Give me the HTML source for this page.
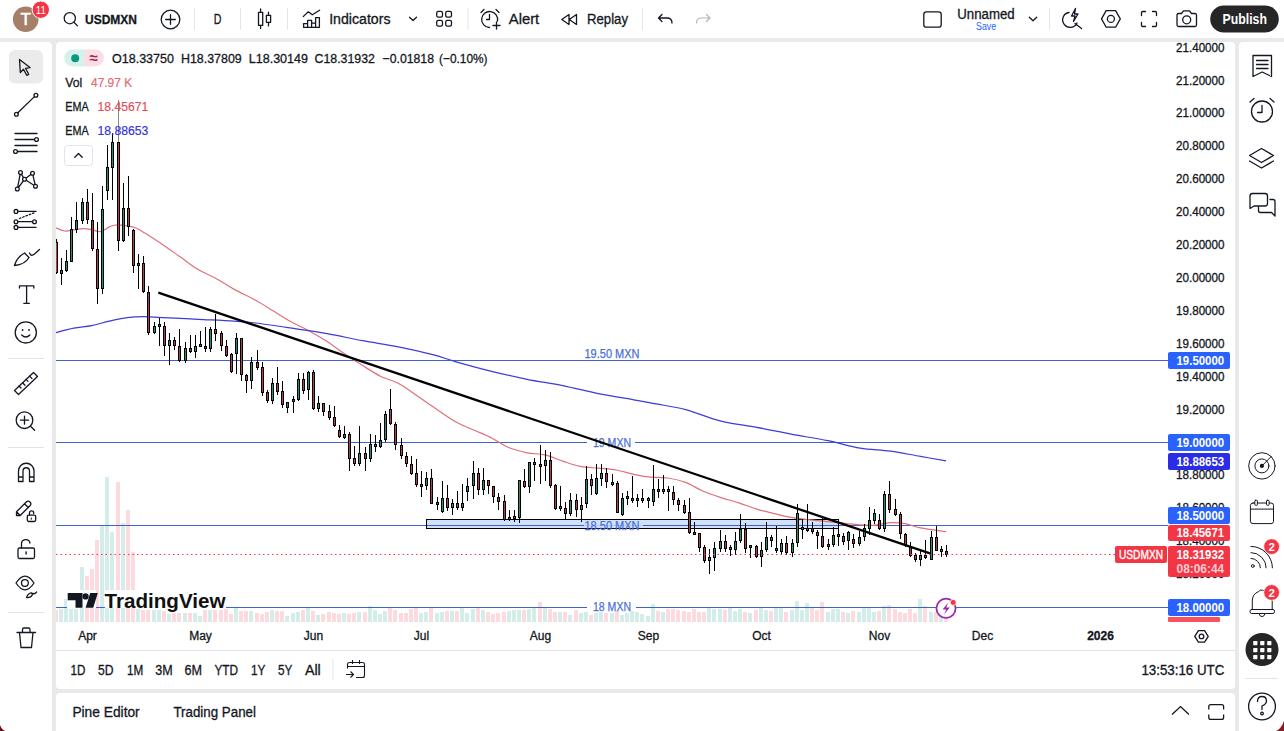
<!DOCTYPE html>
<html><head><meta charset="utf-8"><title>USDMXN chart</title>
<style>
html,body{margin:0;padding:0;}
body{width:1284px;height:731px;overflow:hidden;position:relative;background:#e9e9ea;font-family:"Liberation Sans", sans-serif;}
svg{position:absolute;left:0;top:0;}
svg text{font-family:"Liberation Sans", sans-serif;}
text[fill="#131722"]{stroke:#131722;stroke-width:0.3px;}
text[fill="#4a70d8"]{stroke:#4a70d8;stroke-width:0.25px;}
text[fill="#e0505a"]{stroke:#e0505a;stroke-width:0.2px;}
text[fill="#3434d8"]{stroke:#3434d8;stroke-width:0.2px;}
text[fill="#e96a72"]{stroke:#e96a72;stroke-width:0.2px;}
</style></head><body>
<div style="position:absolute;left:0;top:0;width:1284px;height:38px;background:#fff"></div>
<div style="position:absolute;left:0;top:42px;width:52px;height:689px;background:#fff;border-radius:0 4px 0 0"></div>
<div style="position:absolute;left:56px;top:42px;width:1179px;height:647px;background:#fff;border-radius:4px"></div>
<div style="position:absolute;left:1239px;top:42px;width:45px;height:689px;background:#fff;border-radius:4px 0 0 0"></div>
<div style="position:absolute;left:56px;top:693px;width:1179px;height:38px;background:#fff;border-radius:4px 4px 0 0"></div>
<svg width="1284" height="731" viewBox="0 0 1284 731">
<defs><clipPath id="cp"><rect x="56" y="42" width="1112" height="580"/></clipPath></defs>
<g clip-path="url(#cp)">
<rect x="54" y="610" width="4" height="12" fill="#fcdadd"/>
<rect x="59" y="609" width="4" height="13" fill="#d3eeea"/>
<rect x="64" y="599" width="4" height="23" fill="#d3eeea"/>
<rect x="69" y="609" width="4" height="13" fill="#d3eeea"/>
<rect x="74" y="609" width="4" height="13" fill="#d3eeea"/>
<rect x="80" y="567" width="4" height="55" fill="#d3eeea"/>
<rect x="85" y="576" width="4" height="46" fill="#fcdadd"/>
<rect x="90" y="569" width="4" height="53" fill="#fcdadd"/>
<rect x="95" y="540" width="4" height="82" fill="#fcdadd"/>
<rect x="100" y="526" width="4" height="96" fill="#d3eeea"/>
<rect x="105" y="477" width="4" height="145" fill="#d3eeea"/>
<rect x="110" y="532" width="4" height="90" fill="#d3eeea"/>
<rect x="116" y="482" width="4" height="140" fill="#fcdadd"/>
<rect x="121" y="523" width="4" height="99" fill="#d3eeea"/>
<rect x="126" y="510" width="4" height="112" fill="#fcdadd"/>
<rect x="131" y="552" width="4" height="70" fill="#fcdadd"/>
<rect x="136" y="609" width="4" height="13" fill="#d3eeea"/>
<rect x="141" y="610" width="4" height="12" fill="#fcdadd"/>
<rect x="146" y="610" width="4" height="12" fill="#fcdadd"/>
<rect x="152" y="610" width="4" height="12" fill="#d3eeea"/>
<rect x="157" y="610" width="4" height="12" fill="#d3eeea"/>
<rect x="162" y="611" width="4" height="11" fill="#fcdadd"/>
<rect x="167" y="614" width="4" height="8" fill="#d3eeea"/>
<rect x="172" y="613" width="4" height="9" fill="#fcdadd"/>
<rect x="177" y="613" width="4" height="9" fill="#fcdadd"/>
<rect x="183" y="613" width="4" height="9" fill="#d3eeea"/>
<rect x="188" y="613" width="4" height="9" fill="#fcdadd"/>
<rect x="193" y="613" width="4" height="9" fill="#d3eeea"/>
<rect x="198" y="616" width="4" height="6" fill="#d3eeea"/>
<rect x="203" y="610" width="4" height="12" fill="#fcdadd"/>
<rect x="208" y="610" width="4" height="12" fill="#d3eeea"/>
<rect x="213" y="610" width="4" height="12" fill="#fcdadd"/>
<rect x="219" y="610" width="4" height="12" fill="#fcdadd"/>
<rect x="224" y="609" width="4" height="13" fill="#fcdadd"/>
<rect x="229" y="614" width="4" height="8" fill="#fcdadd"/>
<rect x="234" y="608" width="4" height="14" fill="#d3eeea"/>
<rect x="239" y="611" width="4" height="11" fill="#fcdadd"/>
<rect x="244" y="611" width="4" height="11" fill="#fcdadd"/>
<rect x="249" y="611" width="4" height="11" fill="#d3eeea"/>
<rect x="255" y="613" width="4" height="9" fill="#fcdadd"/>
<rect x="260" y="614" width="4" height="8" fill="#fcdadd"/>
<rect x="265" y="612" width="4" height="10" fill="#fcdadd"/>
<rect x="270" y="610" width="4" height="12" fill="#d3eeea"/>
<rect x="275" y="611" width="4" height="11" fill="#fcdadd"/>
<rect x="280" y="611" width="4" height="11" fill="#fcdadd"/>
<rect x="285" y="616" width="4" height="6" fill="#d3eeea"/>
<rect x="291" y="613" width="4" height="9" fill="#d3eeea"/>
<rect x="296" y="612" width="4" height="10" fill="#d3eeea"/>
<rect x="301" y="610" width="4" height="12" fill="#fcdadd"/>
<rect x="306" y="608" width="4" height="14" fill="#d3eeea"/>
<rect x="311" y="611" width="4" height="11" fill="#fcdadd"/>
<rect x="316" y="615" width="4" height="7" fill="#d3eeea"/>
<rect x="321" y="614" width="4" height="8" fill="#fcdadd"/>
<rect x="327" y="612" width="4" height="10" fill="#fcdadd"/>
<rect x="332" y="613" width="4" height="9" fill="#fcdadd"/>
<rect x="337" y="614" width="4" height="8" fill="#fcdadd"/>
<rect x="342" y="613" width="4" height="9" fill="#d3eeea"/>
<rect x="347" y="614" width="4" height="8" fill="#fcdadd"/>
<rect x="352" y="613" width="4" height="9" fill="#fcdadd"/>
<rect x="357" y="612" width="4" height="10" fill="#d3eeea"/>
<rect x="363" y="612" width="4" height="10" fill="#fcdadd"/>
<rect x="368" y="606" width="4" height="16" fill="#d3eeea"/>
<rect x="373" y="610" width="4" height="12" fill="#d3eeea"/>
<rect x="378" y="614" width="4" height="8" fill="#d3eeea"/>
<rect x="383" y="611" width="4" height="11" fill="#d3eeea"/>
<rect x="388" y="608" width="4" height="14" fill="#fcdadd"/>
<rect x="393" y="610" width="4" height="12" fill="#fcdadd"/>
<rect x="399" y="613" width="4" height="9" fill="#fcdadd"/>
<rect x="404" y="613" width="4" height="9" fill="#fcdadd"/>
<rect x="409" y="609" width="4" height="13" fill="#fcdadd"/>
<rect x="414" y="608" width="4" height="14" fill="#fcdadd"/>
<rect x="419" y="613" width="4" height="9" fill="#d3eeea"/>
<rect x="424" y="612" width="4" height="10" fill="#d3eeea"/>
<rect x="429" y="608" width="4" height="14" fill="#fcdadd"/>
<rect x="435" y="613" width="4" height="9" fill="#d3eeea"/>
<rect x="440" y="612" width="4" height="10" fill="#d3eeea"/>
<rect x="445" y="611" width="4" height="11" fill="#fcdadd"/>
<rect x="450" y="611" width="4" height="11" fill="#d3eeea"/>
<rect x="455" y="611" width="4" height="11" fill="#fcdadd"/>
<rect x="460" y="608" width="4" height="14" fill="#d3eeea"/>
<rect x="465" y="613" width="4" height="9" fill="#d3eeea"/>
<rect x="471" y="609" width="4" height="13" fill="#d3eeea"/>
<rect x="476" y="608" width="4" height="14" fill="#fcdadd"/>
<rect x="481" y="610" width="4" height="12" fill="#d3eeea"/>
<rect x="486" y="612" width="4" height="10" fill="#fcdadd"/>
<rect x="491" y="614" width="4" height="8" fill="#fcdadd"/>
<rect x="496" y="613" width="4" height="9" fill="#fcdadd"/>
<rect x="502" y="612" width="4" height="10" fill="#fcdadd"/>
<rect x="507" y="611" width="4" height="11" fill="#d3eeea"/>
<rect x="512" y="610" width="4" height="12" fill="#d3eeea"/>
<rect x="517" y="610" width="4" height="12" fill="#d3eeea"/>
<rect x="522" y="610" width="4" height="12" fill="#fcdadd"/>
<rect x="527" y="609" width="4" height="13" fill="#d3eeea"/>
<rect x="532" y="608" width="4" height="14" fill="#d3eeea"/>
<rect x="538" y="602" width="4" height="20" fill="#fcdadd"/>
<rect x="543" y="608" width="4" height="14" fill="#d3eeea"/>
<rect x="548" y="609" width="4" height="13" fill="#fcdadd"/>
<rect x="553" y="612" width="4" height="10" fill="#fcdadd"/>
<rect x="558" y="612" width="4" height="10" fill="#d3eeea"/>
<rect x="563" y="612" width="4" height="10" fill="#fcdadd"/>
<rect x="568" y="615" width="4" height="7" fill="#d3eeea"/>
<rect x="574" y="610" width="4" height="12" fill="#fcdadd"/>
<rect x="579" y="613" width="4" height="9" fill="#d3eeea"/>
<rect x="584" y="612" width="4" height="10" fill="#d3eeea"/>
<rect x="589" y="615" width="4" height="7" fill="#fcdadd"/>
<rect x="594" y="613" width="4" height="9" fill="#d3eeea"/>
<rect x="599" y="612" width="4" height="10" fill="#d3eeea"/>
<rect x="604" y="613" width="4" height="9" fill="#fcdadd"/>
<rect x="610" y="613" width="4" height="9" fill="#d3eeea"/>
<rect x="615" y="611" width="4" height="11" fill="#fcdadd"/>
<rect x="620" y="615" width="4" height="7" fill="#d3eeea"/>
<rect x="625" y="613" width="4" height="9" fill="#d3eeea"/>
<rect x="630" y="611" width="4" height="11" fill="#d3eeea"/>
<rect x="635" y="612" width="4" height="10" fill="#d3eeea"/>
<rect x="640" y="614" width="4" height="8" fill="#d3eeea"/>
<rect x="646" y="616" width="4" height="6" fill="#d3eeea"/>
<rect x="651" y="604" width="4" height="18" fill="#d3eeea"/>
<rect x="656" y="611" width="4" height="11" fill="#fcdadd"/>
<rect x="661" y="612" width="4" height="10" fill="#d3eeea"/>
<rect x="666" y="609" width="4" height="13" fill="#fcdadd"/>
<rect x="671" y="609" width="4" height="13" fill="#fcdadd"/>
<rect x="676" y="610" width="4" height="12" fill="#fcdadd"/>
<rect x="682" y="611" width="4" height="11" fill="#fcdadd"/>
<rect x="687" y="612" width="4" height="10" fill="#fcdadd"/>
<rect x="692" y="609" width="4" height="13" fill="#fcdadd"/>
<rect x="697" y="612" width="4" height="10" fill="#fcdadd"/>
<rect x="702" y="612" width="4" height="10" fill="#fcdadd"/>
<rect x="707" y="608" width="4" height="14" fill="#d3eeea"/>
<rect x="712" y="609" width="4" height="13" fill="#d3eeea"/>
<rect x="718" y="609" width="4" height="13" fill="#d3eeea"/>
<rect x="723" y="610" width="4" height="12" fill="#fcdadd"/>
<rect x="728" y="608" width="4" height="14" fill="#d3eeea"/>
<rect x="733" y="611" width="4" height="11" fill="#d3eeea"/>
<rect x="738" y="609" width="4" height="13" fill="#d3eeea"/>
<rect x="743" y="612" width="4" height="10" fill="#fcdadd"/>
<rect x="748" y="613" width="4" height="9" fill="#d3eeea"/>
<rect x="754" y="610" width="4" height="12" fill="#fcdadd"/>
<rect x="759" y="608" width="4" height="14" fill="#d3eeea"/>
<rect x="764" y="610" width="4" height="12" fill="#d3eeea"/>
<rect x="769" y="611" width="4" height="11" fill="#fcdadd"/>
<rect x="774" y="608" width="4" height="14" fill="#d3eeea"/>
<rect x="779" y="608" width="4" height="14" fill="#d3eeea"/>
<rect x="784" y="612" width="4" height="10" fill="#fcdadd"/>
<rect x="790" y="610" width="4" height="12" fill="#d3eeea"/>
<rect x="795" y="601" width="4" height="21" fill="#d3eeea"/>
<rect x="800" y="610" width="4" height="12" fill="#d3eeea"/>
<rect x="805" y="603" width="4" height="19" fill="#d3eeea"/>
<rect x="810" y="608" width="4" height="14" fill="#fcdadd"/>
<rect x="815" y="610" width="4" height="12" fill="#fcdadd"/>
<rect x="820" y="602" width="4" height="20" fill="#fcdadd"/>
<rect x="826" y="612" width="4" height="10" fill="#d3eeea"/>
<rect x="831" y="609" width="4" height="13" fill="#d3eeea"/>
<rect x="836" y="609" width="4" height="13" fill="#d3eeea"/>
<rect x="841" y="612" width="4" height="10" fill="#fcdadd"/>
<rect x="846" y="613" width="4" height="9" fill="#d3eeea"/>
<rect x="851" y="611" width="4" height="11" fill="#fcdadd"/>
<rect x="857" y="612" width="4" height="10" fill="#d3eeea"/>
<rect x="862" y="608" width="4" height="14" fill="#d3eeea"/>
<rect x="867" y="608" width="4" height="14" fill="#d3eeea"/>
<rect x="872" y="612" width="4" height="10" fill="#d3eeea"/>
<rect x="877" y="611" width="4" height="11" fill="#fcdadd"/>
<rect x="882" y="606" width="4" height="16" fill="#d3eeea"/>
<rect x="887" y="605" width="4" height="17" fill="#fcdadd"/>
<rect x="893" y="609" width="4" height="13" fill="#fcdadd"/>
<rect x="898" y="612" width="4" height="10" fill="#fcdadd"/>
<rect x="903" y="613" width="4" height="9" fill="#fcdadd"/>
<rect x="908" y="609" width="4" height="13" fill="#fcdadd"/>
<rect x="913" y="613" width="4" height="9" fill="#fcdadd"/>
<rect x="918" y="599" width="4" height="23" fill="#d3eeea"/>
<rect x="923" y="606" width="4" height="16" fill="#fcdadd"/>
<rect x="929" y="612" width="4" height="10" fill="#d3eeea"/>
<rect x="934" y="612" width="4" height="10" fill="#fcdadd"/>
<rect x="939" y="612" width="4" height="10" fill="#d3eeea"/>
<rect x="944" y="612" width="4" height="10" fill="#fcdadd"/>
<rect x="67" y="590" width="29" height="18" fill="#fff"/>
<rect x="105" y="590" width="121" height="18" fill="#fff"/>
<rect x="56" y="360" width="1112" height="1" fill="#4062c6"/>
<text x="612" y="358" font-size="12" fill="#4a70d8" font-weight="normal" text-anchor="middle" textLength="55" lengthAdjust="spacingAndGlyphs" >19.50 MXN</text>
<rect x="56" y="442" width="531" height="1" fill="#4062c6"/><rect x="635" y="442" width="533" height="1" fill="#4062c6"/>
<text x="612" y="446.5" font-size="12" fill="#4a70d8" font-weight="normal" text-anchor="middle" textLength="38" lengthAdjust="spacingAndGlyphs" >19 MXN</text>
<rect x="56" y="525" width="1112" height="1" fill="#4062c6"/>
<rect x="56" y="607" width="11" height="1" fill="#4062c6"/><rect x="96" y="607" width="9" height="1" fill="#4062c6"/><rect x="226" y="607" width="361" height="1" fill="#4062c6"/><rect x="636" y="607" width="532" height="1" fill="#4062c6"/>
<text x="612" y="611" font-size="12" fill="#4a70d8" font-weight="normal" text-anchor="middle" textLength="38" lengthAdjust="spacingAndGlyphs" >18 MXN</text>
<rect x="426.5" y="519.5" width="412" height="9" fill="#c9dcfb" fill-opacity="0.85" stroke="#000" stroke-width="1"/>
<rect x="427" y="525" width="157" height="1" fill="#4062c6"/><rect x="643" y="525" width="195" height="1" fill="#4062c6"/>
<text x="612" y="529.5" font-size="12" fill="#4a70d8" font-weight="normal" text-anchor="middle" textLength="55" lengthAdjust="spacingAndGlyphs" >18.50 MXN</text>
<path d="M56,227.8 C57.5,228.3 61.9,230.7 64.9,231 C67.9,231.3 70.8,230.3 73.8,229.9 C76.8,229.5 79.7,228.8 82.7,228.7 C85.7,228.6 88.6,229.1 91.6,229.6 C94.5,230.1 97.5,232.1 100.4,231.7 C103.4,231.2 106.7,228.0 109.3,226.9 C111.9,225.8 113.0,225.2 116,225 C119.0,224.8 123.8,225.5 127.1,226 C130.4,226.5 133.0,226.8 136,228 C139.0,229.2 140.5,230.3 144.9,233.1 C149.3,235.9 156.8,240.7 162.7,244.7 C168.6,248.7 174.5,253.0 180.4,257.1 C186.3,261.2 192.3,266.1 198.2,269.6 C204.1,273.2 210.1,275.1 216,278.4 C221.9,281.6 227.1,285.4 233.8,289.1 C240.5,292.8 249.3,296.8 256,300.5 C262.7,304.2 267.9,307.7 273.8,311.3 C279.7,314.9 285.7,318.7 291.6,322 C297.5,325.3 303.4,327.6 309.3,330.9 C315.2,334.2 321.2,337.8 327.1,341.6 C333.0,345.5 339.0,350.0 344.9,354 C350.8,358.0 356.8,361.9 362.7,365.6 C368.6,369.3 374.5,373.2 380.4,376.2 C386.3,379.1 392.3,380.2 398.2,383.3 C404.1,386.4 410.1,390.9 416,394.9 C421.9,398.9 427.1,402.8 433.8,407.3 C440.5,411.8 449.3,418.2 456,422 C462.7,425.8 467.9,427.3 473.8,430 C479.7,432.7 485.7,435.0 491.6,438 C497.5,441.0 503.4,445.3 509.3,447.8 C515.2,450.3 521.2,451.6 527.1,452.8 C533.0,454.0 539.0,453.5 544.9,454.9 C550.8,456.3 556.8,459.2 562.7,461.1 C568.6,463.0 574.5,465.2 580.4,466.4 C586.3,467.6 592.3,467.6 598.2,468.2 C604.1,468.8 610.1,469.0 616,470 C621.9,471.0 628.1,473.2 633.8,474.4 C639.5,475.6 644.3,476.5 650,477.1 C655.7,477.7 661.9,477.1 667.8,478 C673.7,478.9 679.7,480.2 685.6,482.4 C691.5,484.6 697.4,488.8 703.3,491.3 C709.2,493.8 715.2,495.7 721.1,497.6 C727.0,499.5 733.0,501.0 738.9,502.9 C744.8,504.8 750.8,507.3 756.7,509.1 C762.6,510.9 768.5,512.2 774.4,513.6 C780.3,515.0 782.9,516.2 792.2,517.6 C801.5,519.0 818.8,520.7 830.1,521.9 C841.4,523.1 852.7,524.3 860.2,524.9 C867.7,525.5 870.3,525.6 875.3,525.2 C880.3,524.8 885.4,522.9 890.4,522.6 C895.4,522.4 900.4,522.8 905.4,523.7 C910.4,524.6 913.7,526.6 920.5,527.9 C927.3,529.2 941.8,531.1 946.1,531.7" fill="none" stroke="#e0707a" stroke-width="1.2"/>
<path d="M56,332.7 C59.0,331.9 67.9,329.4 73.8,328.2 C79.7,327.0 85.7,326.8 91.6,325.6 C97.5,324.4 103.4,322.4 109.3,321.1 C115.2,319.8 121.2,318.3 127.1,317.6 C133.0,316.9 139.0,316.7 144.9,316.7 C150.8,316.7 153.8,317.2 162.7,317.6 C171.6,318.0 186.3,318.7 198.2,319.3 C210.0,319.9 224.2,320.5 233.8,321.1 C243.4,321.7 246.4,321.8 256,323 C265.6,324.2 279.8,326.4 291.6,328.2 C303.5,330.0 315.2,331.5 327.1,333.6 C339.0,335.7 350.9,338.5 362.7,340.7 C374.5,342.9 386.3,344.5 398.2,346.9 C410.1,349.3 424.2,352.4 433.8,354.9 C443.4,357.4 446.4,359.1 456,361.8 C465.6,364.5 479.8,368.4 491.6,371.3 C503.5,374.2 515.2,376.9 527.1,379.3 C539.0,381.7 550.9,383.2 562.7,385.6 C574.6,388.0 586.4,391.2 598.2,393.6 C610.1,396.0 624.2,398.1 633.8,399.8 C643.4,401.5 647.4,402.3 656,403.9 C664.6,405.5 674.8,406.7 685.6,409.6 C696.5,412.5 709.2,418.2 721.1,421.1 C733.0,424.1 744.9,425.1 756.7,427.3 C768.6,429.5 780.4,432.2 792.2,434.4 C804.1,436.6 816.5,438.4 827.8,440.7 C839.1,443.0 849.8,446.4 860.2,448.1 C870.6,449.8 880.4,449.7 890.4,451.1 C900.4,452.5 911.2,454.8 920.5,456.4 C929.8,458.0 941.8,460.1 946.1,460.9" fill="none" stroke="#3c3cd6" stroke-width="1.2"/>
<rect x="56" y="239" width="1" height="35" fill="#000"/>
<rect x="55" y="242" width="3" height="31" fill="#000"/>
<rect x="56" y="243" width="1" height="29" fill="#b0404f"/>
<rect x="61" y="258" width="1" height="27" fill="#000"/>
<rect x="60" y="270" width="3" height="4" fill="#000"/>
<rect x="61" y="271" width="1" height="2" fill="#2c8a78"/>
<rect x="66" y="250" width="1" height="22" fill="#000"/>
<rect x="65" y="261" width="3" height="10" fill="#000"/>
<rect x="66" y="262" width="1" height="8" fill="#2c8a78"/>
<rect x="71" y="217" width="1" height="45" fill="#000"/>
<rect x="70" y="229" width="3" height="33" fill="#000"/>
<rect x="71" y="230" width="1" height="31" fill="#2c8a78"/>
<rect x="76" y="202" width="1" height="31" fill="#000"/>
<rect x="75" y="220" width="3" height="10" fill="#000"/>
<rect x="76" y="221" width="1" height="8" fill="#2c8a78"/>
<rect x="82" y="198" width="1" height="26" fill="#000"/>
<rect x="81" y="202" width="3" height="19" fill="#000"/>
<rect x="82" y="203" width="1" height="17" fill="#2c8a78"/>
<rect x="87" y="189" width="1" height="35" fill="#000"/>
<rect x="86" y="202" width="3" height="18" fill="#000"/>
<rect x="87" y="203" width="1" height="16" fill="#b0404f"/>
<rect x="92" y="193" width="1" height="58" fill="#000"/>
<rect x="91" y="220" width="3" height="29" fill="#000"/>
<rect x="92" y="221" width="1" height="27" fill="#b0404f"/>
<rect x="97" y="222" width="1" height="82" fill="#000"/>
<rect x="96" y="249" width="3" height="40" fill="#000"/>
<rect x="97" y="250" width="1" height="38" fill="#b0404f"/>
<rect x="102" y="186" width="1" height="108" fill="#000"/>
<rect x="101" y="209" width="3" height="80" fill="#000"/>
<rect x="102" y="210" width="1" height="78" fill="#2c8a78"/>
<rect x="107" y="145" width="1" height="55" fill="#000"/>
<rect x="106" y="167" width="3" height="24" fill="#000"/>
<rect x="107" y="168" width="1" height="22" fill="#2c8a78"/>
<rect x="112" y="133" width="1" height="67" fill="#000"/>
<rect x="111" y="142" width="3" height="26" fill="#000"/>
<rect x="112" y="143" width="1" height="24" fill="#2c8a78"/>
<rect x="118" y="100" width="1" height="151" fill="#000"/>
<rect x="118" y="100" width="1" height="42" fill="#888"/>
<rect x="117" y="142" width="3" height="99" fill="#000"/>
<rect x="118" y="143" width="1" height="97" fill="#b0404f"/>
<rect x="123" y="183" width="1" height="59" fill="#000"/>
<rect x="122" y="208" width="3" height="33" fill="#000"/>
<rect x="123" y="209" width="1" height="31" fill="#2c8a78"/>
<rect x="128" y="176" width="1" height="60" fill="#000"/>
<rect x="127" y="208" width="3" height="19" fill="#000"/>
<rect x="128" y="209" width="1" height="17" fill="#b0404f"/>
<rect x="133" y="229" width="1" height="44" fill="#000"/>
<rect x="132" y="230" width="3" height="36" fill="#000"/>
<rect x="133" y="231" width="1" height="34" fill="#b0404f"/>
<rect x="138" y="254" width="1" height="35" fill="#000"/>
<rect x="137" y="263" width="3" height="3" fill="#000"/>
<rect x="138" y="264" width="1" height="1" fill="#2c8a78"/>
<rect x="143" y="256" width="1" height="37" fill="#000"/>
<rect x="142" y="263" width="3" height="29" fill="#000"/>
<rect x="143" y="264" width="1" height="27" fill="#b0404f"/>
<rect x="148" y="286" width="1" height="49" fill="#000"/>
<rect x="147" y="292" width="3" height="41" fill="#000"/>
<rect x="148" y="293" width="1" height="39" fill="#b0404f"/>
<rect x="154" y="322" width="1" height="12" fill="#000"/>
<rect x="153" y="326" width="3" height="7" fill="#000"/>
<rect x="154" y="327" width="1" height="5" fill="#2c8a78"/>
<rect x="159" y="318" width="1" height="28" fill="#000"/>
<rect x="158" y="324" width="3" height="3" fill="#000"/>
<rect x="159" y="325" width="1" height="1" fill="#2c8a78"/>
<rect x="164" y="322" width="1" height="34" fill="#000"/>
<rect x="163" y="326" width="3" height="20" fill="#000"/>
<rect x="164" y="327" width="1" height="18" fill="#b0404f"/>
<rect x="169" y="333" width="1" height="32" fill="#000"/>
<rect x="168" y="340" width="3" height="6" fill="#000"/>
<rect x="169" y="341" width="1" height="4" fill="#2c8a78"/>
<rect x="174" y="337" width="1" height="13" fill="#000"/>
<rect x="173" y="340" width="3" height="6" fill="#000"/>
<rect x="174" y="341" width="1" height="4" fill="#b0404f"/>
<rect x="179" y="329" width="1" height="33" fill="#000"/>
<rect x="178" y="346" width="3" height="15" fill="#000"/>
<rect x="179" y="347" width="1" height="13" fill="#b0404f"/>
<rect x="185" y="342" width="1" height="21" fill="#000"/>
<rect x="184" y="348" width="3" height="13" fill="#000"/>
<rect x="185" y="349" width="1" height="11" fill="#2c8a78"/>
<rect x="190" y="335" width="1" height="18" fill="#000"/>
<rect x="189" y="348" width="3" height="4" fill="#000"/>
<rect x="190" y="349" width="1" height="2" fill="#b0404f"/>
<rect x="195" y="335" width="1" height="23" fill="#000"/>
<rect x="194" y="346" width="3" height="6" fill="#000"/>
<rect x="195" y="347" width="1" height="4" fill="#2c8a78"/>
<rect x="200" y="331" width="1" height="15" fill="#000"/>
<rect x="199" y="344" width="3" height="3" fill="#000"/>
<rect x="200" y="345" width="1" height="1" fill="#2c8a78"/>
<rect x="205" y="327" width="1" height="25" fill="#000"/>
<rect x="204" y="346" width="3" height="3" fill="#000"/>
<rect x="205" y="347" width="1" height="1" fill="#b0404f"/>
<rect x="210" y="327" width="1" height="25" fill="#000"/>
<rect x="209" y="329" width="3" height="20" fill="#000"/>
<rect x="210" y="330" width="1" height="18" fill="#2c8a78"/>
<rect x="215" y="314" width="1" height="27" fill="#000"/>
<rect x="214" y="329" width="3" height="5" fill="#000"/>
<rect x="215" y="330" width="1" height="3" fill="#b0404f"/>
<rect x="221" y="331" width="1" height="20" fill="#000"/>
<rect x="220" y="333" width="3" height="13" fill="#000"/>
<rect x="221" y="334" width="1" height="11" fill="#b0404f"/>
<rect x="226" y="340" width="1" height="17" fill="#000"/>
<rect x="225" y="346" width="3" height="10" fill="#000"/>
<rect x="226" y="347" width="1" height="8" fill="#b0404f"/>
<rect x="231" y="353" width="1" height="20" fill="#000"/>
<rect x="230" y="354" width="3" height="18" fill="#000"/>
<rect x="231" y="355" width="1" height="16" fill="#b0404f"/>
<rect x="236" y="333" width="1" height="41" fill="#000"/>
<rect x="235" y="338" width="3" height="16" fill="#000"/>
<rect x="236" y="339" width="1" height="14" fill="#2c8a78"/>
<rect x="241" y="338" width="1" height="43" fill="#000"/>
<rect x="240" y="338" width="3" height="37" fill="#000"/>
<rect x="241" y="339" width="1" height="35" fill="#b0404f"/>
<rect x="246" y="374" width="1" height="19" fill="#000"/>
<rect x="245" y="375" width="3" height="6" fill="#000"/>
<rect x="246" y="376" width="1" height="4" fill="#b0404f"/>
<rect x="251" y="357" width="1" height="32" fill="#000"/>
<rect x="250" y="362" width="3" height="19" fill="#000"/>
<rect x="251" y="363" width="1" height="17" fill="#2c8a78"/>
<rect x="257" y="350" width="1" height="20" fill="#000"/>
<rect x="256" y="362" width="3" height="6" fill="#000"/>
<rect x="257" y="363" width="1" height="4" fill="#b0404f"/>
<rect x="262" y="362" width="1" height="34" fill="#000"/>
<rect x="261" y="367" width="3" height="26" fill="#000"/>
<rect x="262" y="368" width="1" height="24" fill="#b0404f"/>
<rect x="267" y="390" width="1" height="13" fill="#000"/>
<rect x="266" y="392" width="3" height="9" fill="#000"/>
<rect x="267" y="393" width="1" height="7" fill="#b0404f"/>
<rect x="272" y="378" width="1" height="26" fill="#000"/>
<rect x="271" y="383" width="3" height="18" fill="#000"/>
<rect x="272" y="384" width="1" height="16" fill="#2c8a78"/>
<rect x="277" y="367" width="1" height="28" fill="#000"/>
<rect x="276" y="383" width="3" height="9" fill="#000"/>
<rect x="277" y="384" width="1" height="7" fill="#b0404f"/>
<rect x="282" y="381" width="1" height="27" fill="#000"/>
<rect x="281" y="391" width="3" height="14" fill="#000"/>
<rect x="282" y="392" width="1" height="12" fill="#b0404f"/>
<rect x="287" y="402" width="1" height="11" fill="#000"/>
<rect x="286" y="402" width="3" height="6" fill="#000"/>
<rect x="287" y="403" width="1" height="4" fill="#2c8a78"/>
<rect x="293" y="396" width="1" height="17" fill="#000"/>
<rect x="292" y="399" width="3" height="3" fill="#000"/>
<rect x="293" y="400" width="1" height="1" fill="#2c8a78"/>
<rect x="298" y="373" width="1" height="28" fill="#000"/>
<rect x="297" y="379" width="3" height="21" fill="#000"/>
<rect x="298" y="380" width="1" height="19" fill="#2c8a78"/>
<rect x="303" y="373" width="1" height="21" fill="#000"/>
<rect x="302" y="379" width="3" height="12" fill="#000"/>
<rect x="303" y="380" width="1" height="10" fill="#b0404f"/>
<rect x="308" y="371" width="1" height="29" fill="#000"/>
<rect x="307" y="372" width="3" height="18" fill="#000"/>
<rect x="308" y="373" width="1" height="16" fill="#2c8a78"/>
<rect x="313" y="370" width="1" height="40" fill="#000"/>
<rect x="312" y="372" width="3" height="37" fill="#000"/>
<rect x="313" y="373" width="1" height="35" fill="#b0404f"/>
<rect x="318" y="396" width="1" height="16" fill="#000"/>
<rect x="317" y="403" width="3" height="6" fill="#000"/>
<rect x="318" y="404" width="1" height="4" fill="#2c8a78"/>
<rect x="323" y="403" width="1" height="13" fill="#000"/>
<rect x="322" y="403" width="3" height="9" fill="#000"/>
<rect x="323" y="404" width="1" height="7" fill="#b0404f"/>
<rect x="329" y="405" width="1" height="15" fill="#000"/>
<rect x="328" y="411" width="3" height="7" fill="#000"/>
<rect x="329" y="412" width="1" height="5" fill="#b0404f"/>
<rect x="334" y="406" width="1" height="21" fill="#000"/>
<rect x="333" y="417" width="3" height="9" fill="#000"/>
<rect x="334" y="418" width="1" height="7" fill="#b0404f"/>
<rect x="339" y="425" width="1" height="13" fill="#000"/>
<rect x="338" y="430" width="3" height="7" fill="#000"/>
<rect x="339" y="431" width="1" height="5" fill="#b0404f"/>
<rect x="344" y="426" width="1" height="13" fill="#000"/>
<rect x="343" y="434" width="3" height="4" fill="#000"/>
<rect x="344" y="435" width="1" height="2" fill="#2c8a78"/>
<rect x="349" y="432" width="1" height="39" fill="#000"/>
<rect x="348" y="434" width="3" height="25" fill="#000"/>
<rect x="349" y="435" width="1" height="23" fill="#b0404f"/>
<rect x="354" y="446" width="1" height="20" fill="#000"/>
<rect x="353" y="458" width="3" height="6" fill="#000"/>
<rect x="354" y="459" width="1" height="4" fill="#b0404f"/>
<rect x="359" y="426" width="1" height="40" fill="#000"/>
<rect x="358" y="453" width="3" height="11" fill="#000"/>
<rect x="359" y="454" width="1" height="9" fill="#2c8a78"/>
<rect x="365" y="447" width="1" height="24" fill="#000"/>
<rect x="364" y="453" width="3" height="6" fill="#000"/>
<rect x="365" y="454" width="1" height="4" fill="#b0404f"/>
<rect x="370" y="434" width="1" height="28" fill="#000"/>
<rect x="369" y="444" width="3" height="15" fill="#000"/>
<rect x="370" y="445" width="1" height="13" fill="#2c8a78"/>
<rect x="375" y="435" width="1" height="17" fill="#000"/>
<rect x="374" y="444" width="3" height="3" fill="#000"/>
<rect x="375" y="445" width="1" height="1" fill="#2c8a78"/>
<rect x="380" y="423" width="1" height="25" fill="#000"/>
<rect x="379" y="440" width="3" height="7" fill="#000"/>
<rect x="380" y="441" width="1" height="5" fill="#2c8a78"/>
<rect x="385" y="411" width="1" height="31" fill="#000"/>
<rect x="384" y="414" width="3" height="26" fill="#000"/>
<rect x="385" y="415" width="1" height="24" fill="#2c8a78"/>
<rect x="390" y="389" width="1" height="36" fill="#000"/>
<rect x="389" y="409" width="3" height="15" fill="#000"/>
<rect x="390" y="410" width="1" height="13" fill="#b0404f"/>
<rect x="395" y="422" width="1" height="28" fill="#000"/>
<rect x="394" y="424" width="3" height="21" fill="#000"/>
<rect x="395" y="425" width="1" height="19" fill="#b0404f"/>
<rect x="401" y="438" width="1" height="21" fill="#000"/>
<rect x="400" y="445" width="3" height="11" fill="#000"/>
<rect x="401" y="446" width="1" height="9" fill="#b0404f"/>
<rect x="406" y="452" width="1" height="15" fill="#000"/>
<rect x="405" y="456" width="3" height="8" fill="#000"/>
<rect x="406" y="457" width="1" height="6" fill="#b0404f"/>
<rect x="411" y="456" width="1" height="19" fill="#000"/>
<rect x="410" y="464" width="3" height="10" fill="#000"/>
<rect x="411" y="465" width="1" height="8" fill="#b0404f"/>
<rect x="416" y="459" width="1" height="28" fill="#000"/>
<rect x="415" y="473" width="3" height="12" fill="#000"/>
<rect x="416" y="474" width="1" height="10" fill="#b0404f"/>
<rect x="421" y="471" width="1" height="26" fill="#000"/>
<rect x="420" y="484" width="3" height="3" fill="#000"/>
<rect x="421" y="485" width="1" height="1" fill="#2c8a78"/>
<rect x="426" y="472" width="1" height="18" fill="#000"/>
<rect x="425" y="478" width="3" height="8" fill="#000"/>
<rect x="426" y="479" width="1" height="6" fill="#2c8a78"/>
<rect x="431" y="469" width="1" height="35" fill="#000"/>
<rect x="430" y="478" width="3" height="26" fill="#000"/>
<rect x="431" y="479" width="1" height="24" fill="#b0404f"/>
<rect x="437" y="497" width="1" height="13" fill="#000"/>
<rect x="436" y="502" width="3" height="3" fill="#000"/>
<rect x="437" y="503" width="1" height="1" fill="#2c8a78"/>
<rect x="442" y="481" width="1" height="32" fill="#000"/>
<rect x="441" y="498" width="3" height="14" fill="#000"/>
<rect x="442" y="499" width="1" height="12" fill="#2c8a78"/>
<rect x="447" y="485" width="1" height="26" fill="#000"/>
<rect x="446" y="498" width="3" height="10" fill="#000"/>
<rect x="447" y="499" width="1" height="8" fill="#b0404f"/>
<rect x="452" y="499" width="1" height="16" fill="#000"/>
<rect x="451" y="503" width="3" height="5" fill="#000"/>
<rect x="452" y="504" width="1" height="3" fill="#2c8a78"/>
<rect x="457" y="491" width="1" height="19" fill="#000"/>
<rect x="456" y="503" width="3" height="5" fill="#000"/>
<rect x="457" y="504" width="1" height="3" fill="#b0404f"/>
<rect x="462" y="484" width="1" height="27" fill="#000"/>
<rect x="461" y="503" width="3" height="5" fill="#000"/>
<rect x="462" y="504" width="1" height="3" fill="#2c8a78"/>
<rect x="467" y="478" width="1" height="23" fill="#000"/>
<rect x="466" y="486" width="3" height="6" fill="#000"/>
<rect x="467" y="487" width="1" height="4" fill="#2c8a78"/>
<rect x="473" y="461" width="1" height="38" fill="#000"/>
<rect x="472" y="473" width="3" height="13" fill="#000"/>
<rect x="473" y="474" width="1" height="11" fill="#2c8a78"/>
<rect x="478" y="468" width="1" height="27" fill="#000"/>
<rect x="477" y="473" width="3" height="17" fill="#000"/>
<rect x="478" y="474" width="1" height="15" fill="#b0404f"/>
<rect x="483" y="468" width="1" height="27" fill="#000"/>
<rect x="482" y="480" width="3" height="10" fill="#000"/>
<rect x="483" y="481" width="1" height="8" fill="#2c8a78"/>
<rect x="488" y="480" width="1" height="14" fill="#000"/>
<rect x="487" y="480" width="3" height="6" fill="#000"/>
<rect x="488" y="481" width="1" height="4" fill="#b0404f"/>
<rect x="493" y="486" width="1" height="17" fill="#000"/>
<rect x="492" y="486" width="3" height="11" fill="#000"/>
<rect x="493" y="487" width="1" height="9" fill="#b0404f"/>
<rect x="498" y="493" width="1" height="17" fill="#000"/>
<rect x="497" y="497" width="3" height="5" fill="#000"/>
<rect x="498" y="498" width="1" height="3" fill="#b0404f"/>
<rect x="504" y="495" width="1" height="26" fill="#000"/>
<rect x="503" y="501" width="3" height="19" fill="#000"/>
<rect x="504" y="502" width="1" height="17" fill="#b0404f"/>
<rect x="509" y="510" width="1" height="11" fill="#000"/>
<rect x="508" y="517" width="3" height="3" fill="#000"/>
<rect x="509" y="518" width="1" height="1" fill="#2c8a78"/>
<rect x="514" y="510" width="1" height="12" fill="#000"/>
<rect x="513" y="516" width="3" height="3" fill="#000"/>
<rect x="514" y="517" width="1" height="1" fill="#2c8a78"/>
<rect x="519" y="480" width="1" height="43" fill="#000"/>
<rect x="518" y="480" width="3" height="38" fill="#000"/>
<rect x="519" y="481" width="1" height="36" fill="#2c8a78"/>
<rect x="524" y="469" width="1" height="19" fill="#000"/>
<rect x="523" y="481" width="3" height="6" fill="#000"/>
<rect x="524" y="482" width="1" height="4" fill="#b0404f"/>
<rect x="529" y="462" width="1" height="31" fill="#000"/>
<rect x="528" y="462" width="3" height="25" fill="#000"/>
<rect x="529" y="463" width="1" height="23" fill="#2c8a78"/>
<rect x="534" y="458" width="1" height="23" fill="#000"/>
<rect x="533" y="462" width="3" height="3" fill="#000"/>
<rect x="534" y="463" width="1" height="1" fill="#2c8a78"/>
<rect x="540" y="445" width="1" height="39" fill="#000"/>
<rect x="539" y="464" width="3" height="3" fill="#000"/>
<rect x="540" y="465" width="1" height="1" fill="#b0404f"/>
<rect x="545" y="450" width="1" height="31" fill="#000"/>
<rect x="544" y="460" width="3" height="6" fill="#000"/>
<rect x="545" y="461" width="1" height="4" fill="#2c8a78"/>
<rect x="550" y="452" width="1" height="36" fill="#000"/>
<rect x="549" y="460" width="3" height="26" fill="#000"/>
<rect x="550" y="461" width="1" height="24" fill="#b0404f"/>
<rect x="555" y="484" width="1" height="26" fill="#000"/>
<rect x="554" y="485" width="3" height="24" fill="#000"/>
<rect x="555" y="486" width="1" height="22" fill="#b0404f"/>
<rect x="560" y="486" width="1" height="25" fill="#000"/>
<rect x="559" y="506" width="3" height="3" fill="#000"/>
<rect x="560" y="507" width="1" height="1" fill="#2c8a78"/>
<rect x="565" y="502" width="1" height="18" fill="#000"/>
<rect x="564" y="508" width="3" height="6" fill="#000"/>
<rect x="565" y="509" width="1" height="4" fill="#b0404f"/>
<rect x="570" y="493" width="1" height="23" fill="#000"/>
<rect x="569" y="500" width="3" height="14" fill="#000"/>
<rect x="570" y="501" width="1" height="12" fill="#2c8a78"/>
<rect x="576" y="494" width="1" height="23" fill="#000"/>
<rect x="575" y="500" width="3" height="10" fill="#000"/>
<rect x="576" y="501" width="1" height="8" fill="#b0404f"/>
<rect x="581" y="497" width="1" height="25" fill="#000"/>
<rect x="580" y="505" width="3" height="5" fill="#000"/>
<rect x="581" y="506" width="1" height="3" fill="#2c8a78"/>
<rect x="586" y="466" width="1" height="42" fill="#000"/>
<rect x="585" y="479" width="3" height="25" fill="#000"/>
<rect x="586" y="480" width="1" height="23" fill="#2c8a78"/>
<rect x="591" y="474" width="1" height="21" fill="#000"/>
<rect x="590" y="479" width="3" height="7" fill="#000"/>
<rect x="591" y="480" width="1" height="5" fill="#b0404f"/>
<rect x="596" y="464" width="1" height="31" fill="#000"/>
<rect x="595" y="478" width="3" height="16" fill="#000"/>
<rect x="596" y="479" width="1" height="14" fill="#2c8a78"/>
<rect x="601" y="464" width="1" height="22" fill="#000"/>
<rect x="600" y="473" width="3" height="6" fill="#000"/>
<rect x="601" y="474" width="1" height="4" fill="#2c8a78"/>
<rect x="606" y="468" width="1" height="20" fill="#000"/>
<rect x="605" y="473" width="3" height="9" fill="#000"/>
<rect x="606" y="474" width="1" height="7" fill="#b0404f"/>
<rect x="612" y="474" width="1" height="12" fill="#000"/>
<rect x="611" y="482" width="3" height="3" fill="#000"/>
<rect x="612" y="483" width="1" height="1" fill="#2c8a78"/>
<rect x="617" y="481" width="1" height="32" fill="#000"/>
<rect x="616" y="483" width="3" height="30" fill="#000"/>
<rect x="617" y="484" width="1" height="28" fill="#b0404f"/>
<rect x="622" y="493" width="1" height="23" fill="#000"/>
<rect x="621" y="498" width="3" height="17" fill="#000"/>
<rect x="622" y="499" width="1" height="15" fill="#2c8a78"/>
<rect x="627" y="491" width="1" height="14" fill="#000"/>
<rect x="626" y="496" width="3" height="3" fill="#000"/>
<rect x="627" y="497" width="1" height="1" fill="#2c8a78"/>
<rect x="632" y="476" width="1" height="27" fill="#000"/>
<rect x="631" y="498" width="3" height="3" fill="#000"/>
<rect x="632" y="499" width="1" height="1" fill="#2c8a78"/>
<rect x="637" y="494" width="1" height="13" fill="#000"/>
<rect x="636" y="498" width="3" height="3" fill="#000"/>
<rect x="637" y="499" width="1" height="1" fill="#2c8a78"/>
<rect x="642" y="489" width="1" height="14" fill="#000"/>
<rect x="641" y="498" width="3" height="3" fill="#000"/>
<rect x="642" y="499" width="1" height="1" fill="#2c8a78"/>
<rect x="648" y="497" width="1" height="11" fill="#000"/>
<rect x="647" y="498" width="3" height="3" fill="#000"/>
<rect x="648" y="499" width="1" height="1" fill="#2c8a78"/>
<rect x="653" y="465" width="1" height="41" fill="#000"/>
<rect x="652" y="489" width="3" height="13" fill="#000"/>
<rect x="653" y="490" width="1" height="11" fill="#2c8a78"/>
<rect x="658" y="479" width="1" height="19" fill="#000"/>
<rect x="657" y="489" width="3" height="3" fill="#000"/>
<rect x="658" y="490" width="1" height="1" fill="#b0404f"/>
<rect x="663" y="475" width="1" height="19" fill="#000"/>
<rect x="662" y="489" width="3" height="3" fill="#000"/>
<rect x="663" y="490" width="1" height="1" fill="#2c8a78"/>
<rect x="668" y="486" width="1" height="25" fill="#000"/>
<rect x="667" y="489" width="3" height="3" fill="#000"/>
<rect x="668" y="490" width="1" height="1" fill="#b0404f"/>
<rect x="673" y="486" width="1" height="19" fill="#000"/>
<rect x="672" y="492" width="3" height="8" fill="#000"/>
<rect x="673" y="493" width="1" height="6" fill="#b0404f"/>
<rect x="678" y="498" width="1" height="13" fill="#000"/>
<rect x="677" y="500" width="3" height="5" fill="#000"/>
<rect x="678" y="501" width="1" height="3" fill="#b0404f"/>
<rect x="684" y="500" width="1" height="14" fill="#000"/>
<rect x="683" y="505" width="3" height="8" fill="#000"/>
<rect x="684" y="506" width="1" height="6" fill="#b0404f"/>
<rect x="689" y="498" width="1" height="36" fill="#000"/>
<rect x="688" y="512" width="3" height="21" fill="#000"/>
<rect x="689" y="513" width="1" height="19" fill="#b0404f"/>
<rect x="694" y="522" width="1" height="13" fill="#000"/>
<rect x="693" y="532" width="3" height="3" fill="#000"/>
<rect x="694" y="533" width="1" height="1" fill="#b0404f"/>
<rect x="699" y="533" width="1" height="19" fill="#000"/>
<rect x="698" y="533" width="3" height="15" fill="#000"/>
<rect x="699" y="534" width="1" height="13" fill="#b0404f"/>
<rect x="704" y="545" width="1" height="18" fill="#000"/>
<rect x="703" y="547" width="3" height="14" fill="#000"/>
<rect x="704" y="548" width="1" height="12" fill="#b0404f"/>
<rect x="709" y="549" width="1" height="25" fill="#000"/>
<rect x="708" y="557" width="3" height="4" fill="#000"/>
<rect x="709" y="558" width="1" height="2" fill="#2c8a78"/>
<rect x="714" y="542" width="1" height="29" fill="#000"/>
<rect x="713" y="548" width="3" height="10" fill="#000"/>
<rect x="714" y="549" width="1" height="8" fill="#2c8a78"/>
<rect x="720" y="530" width="1" height="22" fill="#000"/>
<rect x="719" y="541" width="3" height="8" fill="#000"/>
<rect x="720" y="542" width="1" height="6" fill="#2c8a78"/>
<rect x="725" y="535" width="1" height="17" fill="#000"/>
<rect x="724" y="541" width="3" height="8" fill="#000"/>
<rect x="725" y="542" width="1" height="6" fill="#b0404f"/>
<rect x="730" y="545" width="1" height="11" fill="#000"/>
<rect x="729" y="547" width="3" height="3" fill="#000"/>
<rect x="730" y="548" width="1" height="1" fill="#2c8a78"/>
<rect x="735" y="532" width="1" height="23" fill="#000"/>
<rect x="734" y="541" width="3" height="9" fill="#000"/>
<rect x="735" y="542" width="1" height="7" fill="#2c8a78"/>
<rect x="740" y="514" width="1" height="29" fill="#000"/>
<rect x="739" y="529" width="3" height="12" fill="#000"/>
<rect x="740" y="530" width="1" height="10" fill="#2c8a78"/>
<rect x="745" y="523" width="1" height="30" fill="#000"/>
<rect x="744" y="529" width="3" height="20" fill="#000"/>
<rect x="745" y="530" width="1" height="18" fill="#b0404f"/>
<rect x="750" y="545" width="1" height="13" fill="#000"/>
<rect x="749" y="545" width="3" height="3" fill="#000"/>
<rect x="750" y="546" width="1" height="1" fill="#2c8a78"/>
<rect x="756" y="545" width="1" height="13" fill="#000"/>
<rect x="755" y="546" width="3" height="11" fill="#000"/>
<rect x="756" y="547" width="1" height="9" fill="#b0404f"/>
<rect x="761" y="542" width="1" height="25" fill="#000"/>
<rect x="760" y="550" width="3" height="7" fill="#000"/>
<rect x="761" y="551" width="1" height="5" fill="#2c8a78"/>
<rect x="766" y="522" width="1" height="30" fill="#000"/>
<rect x="765" y="537" width="3" height="13" fill="#000"/>
<rect x="766" y="538" width="1" height="11" fill="#2c8a78"/>
<rect x="771" y="535" width="1" height="12" fill="#000"/>
<rect x="770" y="537" width="3" height="4" fill="#000"/>
<rect x="771" y="538" width="1" height="2" fill="#b0404f"/>
<rect x="776" y="526" width="1" height="27" fill="#000"/>
<rect x="775" y="548" width="3" height="3" fill="#000"/>
<rect x="776" y="549" width="1" height="1" fill="#2c8a78"/>
<rect x="781" y="539" width="1" height="16" fill="#000"/>
<rect x="780" y="543" width="3" height="9" fill="#000"/>
<rect x="781" y="544" width="1" height="7" fill="#2c8a78"/>
<rect x="786" y="536" width="1" height="19" fill="#000"/>
<rect x="785" y="543" width="3" height="10" fill="#000"/>
<rect x="786" y="544" width="1" height="8" fill="#b0404f"/>
<rect x="792" y="539" width="1" height="18" fill="#000"/>
<rect x="791" y="543" width="3" height="10" fill="#000"/>
<rect x="792" y="544" width="1" height="8" fill="#2c8a78"/>
<rect x="797" y="504" width="1" height="43" fill="#000"/>
<rect x="796" y="513" width="3" height="30" fill="#000"/>
<rect x="797" y="514" width="1" height="28" fill="#2c8a78"/>
<rect x="802" y="519" width="1" height="20" fill="#000"/>
<rect x="801" y="527" width="3" height="3" fill="#000"/>
<rect x="802" y="528" width="1" height="1" fill="#2c8a78"/>
<rect x="807" y="504" width="1" height="28" fill="#000"/>
<rect x="806" y="528" width="3" height="3" fill="#000"/>
<rect x="807" y="529" width="1" height="1" fill="#2c8a78"/>
<rect x="812" y="522" width="1" height="12" fill="#000"/>
<rect x="811" y="528" width="3" height="4" fill="#000"/>
<rect x="812" y="529" width="1" height="2" fill="#b0404f"/>
<rect x="817" y="530" width="1" height="19" fill="#000"/>
<rect x="816" y="532" width="3" height="4" fill="#000"/>
<rect x="817" y="533" width="1" height="2" fill="#b0404f"/>
<rect x="822" y="517" width="1" height="31" fill="#000"/>
<rect x="821" y="536" width="3" height="11" fill="#000"/>
<rect x="822" y="537" width="1" height="9" fill="#b0404f"/>
<rect x="828" y="539" width="1" height="11" fill="#000"/>
<rect x="827" y="544" width="3" height="3" fill="#000"/>
<rect x="828" y="545" width="1" height="1" fill="#2c8a78"/>
<rect x="833" y="527" width="1" height="20" fill="#000"/>
<rect x="832" y="535" width="3" height="10" fill="#000"/>
<rect x="833" y="536" width="1" height="8" fill="#2c8a78"/>
<rect x="838" y="519" width="1" height="27" fill="#000"/>
<rect x="837" y="534" width="3" height="3" fill="#000"/>
<rect x="838" y="535" width="1" height="1" fill="#2c8a78"/>
<rect x="843" y="533" width="1" height="12" fill="#000"/>
<rect x="842" y="536" width="3" height="6" fill="#000"/>
<rect x="843" y="537" width="1" height="4" fill="#b0404f"/>
<rect x="848" y="531" width="1" height="19" fill="#000"/>
<rect x="847" y="532" width="3" height="9" fill="#000"/>
<rect x="848" y="533" width="1" height="7" fill="#2c8a78"/>
<rect x="853" y="534" width="1" height="14" fill="#000"/>
<rect x="852" y="539" width="3" height="5" fill="#000"/>
<rect x="853" y="540" width="1" height="3" fill="#b0404f"/>
<rect x="859" y="531" width="1" height="15" fill="#000"/>
<rect x="858" y="537" width="3" height="7" fill="#000"/>
<rect x="859" y="538" width="1" height="5" fill="#2c8a78"/>
<rect x="864" y="524" width="1" height="17" fill="#000"/>
<rect x="863" y="528" width="3" height="9" fill="#000"/>
<rect x="864" y="529" width="1" height="7" fill="#2c8a78"/>
<rect x="869" y="507" width="1" height="28" fill="#000"/>
<rect x="868" y="520" width="3" height="9" fill="#000"/>
<rect x="869" y="521" width="1" height="7" fill="#2c8a78"/>
<rect x="874" y="509" width="1" height="15" fill="#000"/>
<rect x="873" y="513" width="3" height="8" fill="#000"/>
<rect x="874" y="514" width="1" height="6" fill="#2c8a78"/>
<rect x="879" y="514" width="1" height="16" fill="#000"/>
<rect x="878" y="520" width="3" height="9" fill="#000"/>
<rect x="879" y="521" width="1" height="7" fill="#b0404f"/>
<rect x="884" y="491" width="1" height="41" fill="#000"/>
<rect x="883" y="494" width="3" height="35" fill="#000"/>
<rect x="884" y="495" width="1" height="33" fill="#2c8a78"/>
<rect x="889" y="481" width="1" height="32" fill="#000"/>
<rect x="888" y="494" width="3" height="16" fill="#000"/>
<rect x="889" y="495" width="1" height="14" fill="#b0404f"/>
<rect x="895" y="499" width="1" height="17" fill="#000"/>
<rect x="894" y="509" width="3" height="6" fill="#000"/>
<rect x="895" y="510" width="1" height="4" fill="#b0404f"/>
<rect x="900" y="512" width="1" height="27" fill="#000"/>
<rect x="899" y="514" width="3" height="20" fill="#000"/>
<rect x="900" y="515" width="1" height="18" fill="#b0404f"/>
<rect x="905" y="533" width="1" height="14" fill="#000"/>
<rect x="904" y="534" width="3" height="12" fill="#000"/>
<rect x="905" y="535" width="1" height="10" fill="#b0404f"/>
<rect x="910" y="542" width="1" height="15" fill="#000"/>
<rect x="909" y="546" width="3" height="10" fill="#000"/>
<rect x="910" y="547" width="1" height="8" fill="#b0404f"/>
<rect x="915" y="553" width="1" height="9" fill="#000"/>
<rect x="914" y="555" width="3" height="5" fill="#000"/>
<rect x="915" y="556" width="1" height="3" fill="#b0404f"/>
<rect x="920" y="550" width="1" height="16" fill="#000"/>
<rect x="919" y="555" width="3" height="5" fill="#000"/>
<rect x="920" y="556" width="1" height="3" fill="#2c8a78"/>
<rect x="925" y="540" width="1" height="19" fill="#000"/>
<rect x="924" y="555" width="3" height="3" fill="#000"/>
<rect x="925" y="556" width="1" height="1" fill="#b0404f"/>
<rect x="931" y="531" width="1" height="29" fill="#000"/>
<rect x="930" y="537" width="3" height="23" fill="#000"/>
<rect x="931" y="538" width="1" height="21" fill="#2c8a78"/>
<rect x="936" y="526" width="1" height="25" fill="#000"/>
<rect x="935" y="537" width="3" height="14" fill="#000"/>
<rect x="936" y="538" width="1" height="12" fill="#b0404f"/>
<rect x="941" y="546" width="1" height="11" fill="#000"/>
<rect x="940" y="549" width="3" height="3" fill="#000"/>
<rect x="941" y="550" width="1" height="1" fill="#2c8a78"/>
<rect x="946" y="545" width="1" height="12" fill="#000"/>
<rect x="945" y="551" width="3" height="4" fill="#000"/>
<rect x="946" y="552" width="1" height="2" fill="#b0404f"/>
<line x1="158.3" y1="292.7" x2="929.9" y2="553.4" stroke="#000" stroke-width="2.3"/>
<line x1="56" y1="554.5" x2="1115" y2="554.5" stroke="#f23645" stroke-width="1" stroke-dasharray="1.5,3"/>
<g fill="#131722"><path d="M67.7,593.1 H82.5 V607.7 H75.5 V600.2 H67.7 Z"/><circle cx="85.6" cy="596.4" r="3.1"/><path d="M90.2,593.1 H97.8 L93.2,607.7 H85.6 Z"/></g>
<text x="104.5" y="607.7" font-size="20" fill="#111" font-weight="bold" text-anchor="start" textLength="121" lengthAdjust="spacingAndGlyphs" >TradingView</text>
<circle cx="946" cy="608.3" r="9.6" fill="#fff" stroke="#9c27b0" stroke-width="1.8"/>
<path d="M948.2,602.6 L942.6,609.4 H946.2 L944,614.6 L949.8,607.4 H946.2 Z" fill="#9c27b0"/>
<circle cx="953.2" cy="602.4" r="3" fill="#f23645" stroke="#fff" stroke-width="0.8"/>
</g>
<text x="1224.5" y="52" font-size="12" fill="#131722" font-weight="normal" text-anchor="end" textLength="48.5" lengthAdjust="spacingAndGlyphs" >21.40000</text>
<text x="1224.5" y="85" font-size="12" fill="#131722" font-weight="normal" text-anchor="end" textLength="48.5" lengthAdjust="spacingAndGlyphs" >21.20000</text>
<text x="1224.5" y="117" font-size="12" fill="#131722" font-weight="normal" text-anchor="end" textLength="48.5" lengthAdjust="spacingAndGlyphs" >21.00000</text>
<text x="1224.5" y="150" font-size="12" fill="#131722" font-weight="normal" text-anchor="end" textLength="48.5" lengthAdjust="spacingAndGlyphs" >20.80000</text>
<text x="1224.5" y="183" font-size="12" fill="#131722" font-weight="normal" text-anchor="end" textLength="48.5" lengthAdjust="spacingAndGlyphs" >20.60000</text>
<text x="1224.5" y="216" font-size="12" fill="#131722" font-weight="normal" text-anchor="end" textLength="48.5" lengthAdjust="spacingAndGlyphs" >20.40000</text>
<text x="1224.5" y="249" font-size="12" fill="#131722" font-weight="normal" text-anchor="end" textLength="48.5" lengthAdjust="spacingAndGlyphs" >20.20000</text>
<text x="1224.5" y="282" font-size="12" fill="#131722" font-weight="normal" text-anchor="end" textLength="48.5" lengthAdjust="spacingAndGlyphs" >20.00000</text>
<text x="1224.5" y="315" font-size="12" fill="#131722" font-weight="normal" text-anchor="end" textLength="48.5" lengthAdjust="spacingAndGlyphs" >19.80000</text>
<text x="1224.5" y="348" font-size="12" fill="#131722" font-weight="normal" text-anchor="end" textLength="48.5" lengthAdjust="spacingAndGlyphs" >19.60000</text>
<text x="1224.5" y="381" font-size="12" fill="#131722" font-weight="normal" text-anchor="end" textLength="48.5" lengthAdjust="spacingAndGlyphs" >19.40000</text>
<text x="1224.5" y="414" font-size="12" fill="#131722" font-weight="normal" text-anchor="end" textLength="48.5" lengthAdjust="spacingAndGlyphs" >19.20000</text>
<text x="1224.5" y="447" font-size="12" fill="#131722" font-weight="normal" text-anchor="end" textLength="48.5" lengthAdjust="spacingAndGlyphs" >19.00000</text>
<text x="1224.5" y="479" font-size="12" fill="#131722" font-weight="normal" text-anchor="end" textLength="48.5" lengthAdjust="spacingAndGlyphs" >18.80000</text>
<text x="1224.5" y="512" font-size="12" fill="#131722" font-weight="normal" text-anchor="end" textLength="48.5" lengthAdjust="spacingAndGlyphs" >18.60000</text>
<text x="1224.5" y="545" font-size="12" fill="#131722" font-weight="normal" text-anchor="end" textLength="48.5" lengthAdjust="spacingAndGlyphs" >18.40000</text>
<text x="1224.5" y="578" font-size="12" fill="#131722" font-weight="normal" text-anchor="end" textLength="48.5" lengthAdjust="spacingAndGlyphs" >18.20000</text>
<text x="1224.5" y="611" font-size="12" fill="#131722" font-weight="normal" text-anchor="end" textLength="48.5" lengthAdjust="spacingAndGlyphs" >18.00000</text>
<rect x="1168" y="352" width="62" height="17" rx="2" fill="#2962ff"/>
<text x="1224.2" y="364.8" font-size="12" fill="#fff" font-weight="bold" text-anchor="end" textLength="47.7" lengthAdjust="spacingAndGlyphs" >19.50000</text>
<rect x="1168" y="434" width="62" height="17" rx="2" fill="#2962ff"/>
<text x="1224.2" y="446.8" font-size="12" fill="#fff" font-weight="bold" text-anchor="end" textLength="47.7" lengthAdjust="spacingAndGlyphs" >19.00000</text>
<rect x="1168" y="453" width="62" height="17" rx="2" fill="#2b2be8"/>
<text x="1224.2" y="465.8" font-size="12" fill="#fff" font-weight="bold" text-anchor="end" textLength="47.7" lengthAdjust="spacingAndGlyphs" >18.88653</text>
<rect x="1168" y="507" width="62" height="17" rx="2" fill="#2962ff"/>
<text x="1224.2" y="519.8" font-size="12" fill="#fff" font-weight="bold" text-anchor="end" textLength="47.7" lengthAdjust="spacingAndGlyphs" >18.50000</text>
<rect x="1168" y="525" width="62" height="16" rx="2" fill="#f23645"/>
<text x="1224.2" y="537.3" font-size="12" fill="#fff" font-weight="bold" text-anchor="end" textLength="47.7" lengthAdjust="spacingAndGlyphs" >18.45671</text>
<rect x="1168" y="546" width="62" height="31" rx="2" fill="#f23645"/>
<text x="1224.2" y="559" font-size="12" fill="#fff" font-weight="bold" text-anchor="end" textLength="47.7" lengthAdjust="spacingAndGlyphs" >18.31932</text>
<text x="1224.2" y="573" font-size="12" fill="#fccdd2" font-weight="bold" text-anchor="end" textLength="47.7" lengthAdjust="spacingAndGlyphs" >08:06:44</text>
<rect x="1115" y="546" width="52" height="17" rx="2" fill="#f23645"/>
<text x="1141" y="558.6" font-size="12" fill="#fff" font-weight="normal" text-anchor="middle" textLength="44" lengthAdjust="spacingAndGlyphs" stroke="#fff" stroke-width="0.35">USDMXN</text>
<rect x="1168" y="599" width="62" height="17" rx="2" fill="#2962ff"/>
<text x="1224.2" y="611.8" font-size="12" fill="#fff" font-weight="bold" text-anchor="end" textLength="47.7" lengthAdjust="spacingAndGlyphs" >18.00000</text>
<rect x="1168" y="617" width="52" height="5" rx="1" fill="#f7525f"/>
<text x="87.5" y="640.4" font-size="12" fill="#131722" font-weight="normal" text-anchor="middle" >Apr</text>
<text x="200.5" y="640.4" font-size="12" fill="#131722" font-weight="normal" text-anchor="middle" >May</text>
<text x="313.5" y="640.4" font-size="12" fill="#131722" font-weight="normal" text-anchor="middle" >Jun</text>
<text x="421.5" y="640.4" font-size="12" fill="#131722" font-weight="normal" text-anchor="middle" >Jul</text>
<text x="540.5" y="640.4" font-size="12" fill="#131722" font-weight="normal" text-anchor="middle" >Aug</text>
<text x="648.5" y="640.4" font-size="12" fill="#131722" font-weight="normal" text-anchor="middle" >Sep</text>
<text x="761.5" y="640.4" font-size="12" fill="#131722" font-weight="normal" text-anchor="middle" >Oct</text>
<text x="879.5" y="640.4" font-size="12" fill="#131722" font-weight="normal" text-anchor="middle" >Nov</text>
<text x="982.5" y="640.4" font-size="12" fill="#131722" font-weight="normal" text-anchor="middle" >Dec</text>
<text x="1100.5" y="640.4" font-size="12" fill="#131722" font-weight="bold" text-anchor="middle" >2026</text>
<path d="M1194.8,636.4 L1198.4,630.6 H1204.6 L1208.2,636.4 L1204.6,642.2 H1198.4 Z" fill="none" stroke="#131722" stroke-width="1.3"/><circle cx="1201.5" cy="636.4" r="2.3" fill="none" stroke="#131722" stroke-width="1.3"/>
<rect x="56" y="650" width="1179" height="1" fill="#e0e3eb"/>
<text x="70.5" y="675.4" font-size="14" fill="#131722" font-weight="normal" text-anchor="start" textLength="14.9" lengthAdjust="spacingAndGlyphs" >1D</text>
<text x="97.9" y="675.4" font-size="14" fill="#131722" font-weight="normal" text-anchor="start" textLength="15.5" lengthAdjust="spacingAndGlyphs" >5D</text>
<text x="127" y="675.4" font-size="14" fill="#131722" font-weight="normal" text-anchor="start" textLength="16.3" lengthAdjust="spacingAndGlyphs" >1M</text>
<text x="155.3" y="675.4" font-size="14" fill="#131722" font-weight="normal" text-anchor="start" textLength="17.4" lengthAdjust="spacingAndGlyphs" >3M</text>
<text x="184.4" y="675.4" font-size="14" fill="#131722" font-weight="normal" text-anchor="start" textLength="17.5" lengthAdjust="spacingAndGlyphs" >6M</text>
<text x="214.4" y="675.4" font-size="14" fill="#131722" font-weight="normal" text-anchor="start" textLength="23.6" lengthAdjust="spacingAndGlyphs" >YTD</text>
<text x="251" y="675.4" font-size="14" fill="#131722" font-weight="normal" text-anchor="start" textLength="14.5" lengthAdjust="spacingAndGlyphs" >1Y</text>
<text x="278" y="675.4" font-size="14" fill="#131722" font-weight="normal" text-anchor="start" textLength="14.4" lengthAdjust="spacingAndGlyphs" >5Y</text>
<text x="304.9" y="675.4" font-size="14" fill="#131722" font-weight="normal" text-anchor="start" textLength="15.9" lengthAdjust="spacingAndGlyphs" >All</text>
<rect x="332.5" y="659" width="1" height="21" fill="#e0e3eb"/>
<g fill="none" stroke="#131722" stroke-width="1.1"><path d="M347.5,668.5 V664.5 Q347.5,662.5 349.5,662.5 H362.5 Q364.5,662.5 364.5,664.5 V675.5 Q364.5,677.5 362.5,677.5 H356"/><path d="M347.5,666.5 H364.5 M352.5,660 V664 M359.5,660 V664"/><path d="M346,674.5 H353.5 M350.5,671.5 L353.5,674.5 L350.5,677.5"/></g>
<text x="1224.4" y="675.2" font-size="14" fill="#131722" font-weight="normal" text-anchor="end" textLength="83" lengthAdjust="spacingAndGlyphs" >13:53:16 UTC</text>
<text x="72.4" y="716.7" font-size="14" fill="#131722" font-weight="normal" text-anchor="start" textLength="67.3" lengthAdjust="spacingAndGlyphs" >Pine Editor</text>
<text x="173.4" y="716.7" font-size="14" fill="#131722" font-weight="normal" text-anchor="start" textLength="82.6" lengthAdjust="spacingAndGlyphs" >Trading Panel</text>
<path d="M1172,714.5 L1180.5,706.6 L1189,714.5" fill="none" stroke="#131722" stroke-width="1.3"/>
<g fill="none" stroke="#131722" stroke-width="1.3"><path d="M1208.8,709.5 V706.5 Q1208.8,704.6 1210.7,704.6 H1221.7 Q1223.6,704.6 1223.6,706.5 V709.5"/><path d="M1223.6,714.5 V717.5 Q1223.6,719.4 1221.7,719.4 H1210.7 Q1208.8,719.4 1208.8,717.5 V714.5"/></g>
<circle cx="25.7" cy="19.2" r="12.8" fill="#a58068"/>
<text x="25.7" y="25.2" font-size="17" fill="#fff" font-weight="normal" text-anchor="middle" stroke="#fff" stroke-width="0.6">T</text>
<circle cx="40.8" cy="9.7" r="8.7" fill="#f23645" stroke="#fff" stroke-width="1"/>
<text x="40.8" y="13.6" font-size="11" fill="#fff" font-weight="normal" text-anchor="middle" textLength="10" lengthAdjust="spacingAndGlyphs" >11</text>
<g fill="none" stroke="#131722" stroke-width="1.3" stroke-linecap="round" stroke-linejoin="round" stroke-width="1.7"><circle cx="69.8" cy="18.2" r="5.6"/><path d="M73.9,22.3 L77.5,25.9"/></g>
<text x="85" y="23.7" font-size="13" fill="#131722" font-weight="bold" text-anchor="start" textLength="52" lengthAdjust="spacingAndGlyphs" >USDMXN</text>
<g fill="none" stroke="#131722" stroke-width="1.3" stroke-linecap="round" stroke-linejoin="round" stroke-width="1.1"><circle cx="170.5" cy="19.5" r="9.3"/><path d="M165.7,19.5 H175.3 M170.5,14.7 V24.3"/></g>
<rect x="194.0" y="8" width="1" height="22" fill="#e6e6e6"/>
<rect x="240.0" y="8" width="1" height="22" fill="#e6e6e6"/>
<rect x="287.0" y="8" width="1" height="22" fill="#e6e6e6"/>
<rect x="467.5" y="8" width="1" height="22" fill="#e6e6e6"/>
<rect x="642.0" y="8" width="1" height="22" fill="#e6e6e6"/>
<rect x="1049.0" y="8" width="1" height="22" fill="#e6e6e6"/>
<text x="213.8" y="23.8" font-size="14" fill="#131722" font-weight="normal" text-anchor="start" textLength="7.7" lengthAdjust="spacingAndGlyphs" >D</text>
<g fill="none" stroke="#131722" stroke-width="1.3" stroke-linecap="round" stroke-linejoin="round" stroke-width="1.1"><rect x="258.5" y="12.4" width="4.2" height="13"/><path d="M260.6,9 V12.4 M260.6,25.4 V28.6"/><rect x="266.4" y="15.3" width="4.2" height="7"/><path d="M268.5,12.2 V15.3 M268.5,22.3 V25.9"/></g>
<g fill="none" stroke="#131722" stroke-width="1.3" stroke-linecap="round" stroke-linejoin="round" stroke-width="1.05" stroke-linecap="butt"><path d="M303.2,16.6 L308.3,11.8 L312.3,14.8 L319.6,10.2"/><path d="M303.6,27.3 V23.6 H307.6 V20.4 H311.6 V23.2 H315.6 V17.6 H319.4 V27.3 Z M307.6,23.6 V27.3 M311.6,23.2 V27.3 M315.6,23.2 V27.3"/></g>
<text x="329.2" y="23.75" font-size="14" fill="#131722" font-weight="normal" text-anchor="start" textLength="61.3" lengthAdjust="spacingAndGlyphs" >Indicators</text>
<path d="M409.5,17.3 L413,20.5 L416.5,17.3" fill="none" stroke="#131722" stroke-width="1.3" stroke-linecap="round" stroke-linejoin="round" stroke-width="1.1"/>
<g fill="none" stroke="#131722" stroke-width="1.3" stroke-linecap="round" stroke-linejoin="round" stroke-width="1.0"><rect x="436.7" y="11.4" width="5.8" height="5.8" rx="1.6"/><rect x="445.7" y="11.4" width="5.8" height="5.8" rx="1.6"/><rect x="436.7" y="20.4" width="5.8" height="5.8" rx="1.6"/><rect x="445.7" y="20.4" width="5.8" height="5.8" rx="1.6"/></g>
<g fill="none" stroke="#131722" stroke-width="1.3" stroke-linecap="round" stroke-linejoin="round" stroke-width="1.1"><path d="M497.5,21 A8,8 0 1 0 489.5,27.5"/><path d="M489.5,14.5 V19.5 H486.5"/><path d="M481,12.5 L484,9.5 M499,12.5 L496,9.5"/><path d="M496.5,22 V29 M493,25.5 H500"/></g>
<text x="508.8" y="23.7" font-size="14" fill="#131722" font-weight="normal" text-anchor="start" textLength="30.4" lengthAdjust="spacingAndGlyphs" >Alert</text>
<g fill="none" stroke="#131722" stroke-width="1.3" stroke-linecap="round" stroke-linejoin="round" stroke-width="1.1"><path d="M569,14.5 L561.8,19.5 L569,24.5 Z M576.5,14.5 L569.3,19.5 L576.5,24.5 Z"/></g>
<text x="587" y="23.7" font-size="14" fill="#131722" font-weight="normal" text-anchor="start" textLength="41" lengthAdjust="spacingAndGlyphs" >Replay</text>
<g fill="none" stroke="#131722" stroke-width="1.3" stroke-linecap="round" stroke-linejoin="round" stroke-width="1.2"><path d="M662,14.5 L658.5,18 L662,21.5 M658.5,18 H667 Q672,18 672,23"/></g>
<g fill="none" stroke="#b2b5be" stroke-linecap="round" stroke-linejoin="round" stroke-width="1.2"><path d="M706.5,14.5 L710,18 L706.5,21.5 M710,18 H701.5 Q696.5,18 696.5,23"/></g>
<rect x="923.8" y="11.8" width="17.4" height="15.4" rx="2.5" fill="none" stroke="#131722" stroke-width="1.3" stroke-linecap="round" stroke-linejoin="round" stroke-width="1.4"/>
<text x="957.3" y="18.7" font-size="14" fill="#131722" font-weight="normal" text-anchor="start" textLength="57.3" lengthAdjust="spacingAndGlyphs" >Unnamed</text>
<text x="976" y="29.8" font-size="10" fill="#2962ff" font-weight="normal" text-anchor="start" textLength="20.2" lengthAdjust="spacingAndGlyphs" >Save</text>
<path d="M1029.3,17.3 L1033,20.7 L1036.7,17.3" fill="none" stroke="#131722" stroke-width="1.3" stroke-linecap="round" stroke-linejoin="round" stroke-width="1.1"/>
<g fill="none" stroke="#131722" stroke-width="1.3" stroke-linecap="round" stroke-linejoin="round" stroke-width="1.1"><path d="M1069,12.5 A7.5,7.5 0 1 0 1077,23"/><path d="M1075,23.5 L1081.5,28.5"/><path d="M1075.5,8.5 L1071.5,16 H1075 L1073.5,21.5 L1078,14 H1074.5 Z"/></g>
<g fill="none" stroke="#131722" stroke-width="1.3" stroke-linecap="round" stroke-linejoin="round" stroke-width="1.2"><path d="M1101.5,18.9 L1106.2,10.6 H1115.6 L1120.3,18.9 L1115.6,27.2 H1106.2 Z"/><circle cx="1110.9" cy="18.9" r="3.5"/></g>
<g fill="none" stroke="#131722" stroke-width="1.3" stroke-linecap="round" stroke-linejoin="round" stroke-width="1.3"><path d="M1141.5,15.5 V12.7 Q1141.5,11.5 1142.7,11.5 H1145.5 M1152.5,11.5 H1155.3 Q1156.5,11.5 1156.5,12.7 V15.5 M1156.5,22.5 V25.3 Q1156.5,26.5 1155.3,26.5 H1152.5 M1145.5,26.5 H1142.7 Q1141.5,26.5 1141.5,25.3 V22.5"/></g>
<g fill="none" stroke="#131722" stroke-width="1.3" stroke-linecap="round" stroke-linejoin="round" stroke-width="1.2"><path d="M1177,15 Q1177,13.5 1178.5,13.5 H1181.5 L1183.5,10.8 H1189.5 L1191.5,13.5 H1194.5 Q1196.5,13.5 1196.5,15 V25 Q1196.5,26.5 1195,26.5 H1178.5 Q1177,26.5 1177,25 Z"/><circle cx="1186.7" cy="19.8" r="4"/></g>
<rect x="1210.2" y="5.4" width="68.6" height="27.2" rx="13.6" fill="#262626"/>
<text x="1222.6" y="24.1" font-size="14" fill="#fff" font-weight="bold" text-anchor="start" textLength="44.3" lengthAdjust="spacingAndGlyphs" >Publish</text>
<rect x="9" y="50" width="34" height="33.5" rx="6" fill="#ebebeb"/>
<g fill="none" stroke="#131722" stroke-width="1.3" stroke-linecap="round" stroke-linejoin="round" stroke-width="1.2"><path d="M19.5,59.5 L30,67.5 L25.5,68.3 L28.7,74.3 L26.7,75.3 L23.5,69.3 L20.3,72.5 Z"/><path d="M17.6,113 L34.7,96.4"/><circle cx="16.4" cy="114.2" r="1.9"/><circle cx="35.9" cy="95.2" r="1.9"/><path d="M15,133.5 H37 M15,139.5 H34.5 M15,145.5 H37 M18,151.5 H37"/><circle cx="36.5" cy="139.5" r="1.9"/><circle cx="15.5" cy="151.5" r="1.9"/><path d="M17.3,189 L20.5,172.6 L24.5,179.3 L32.5,173.3 L35.5,186.3 L24.5,179.3 L17.3,189"/><circle cx="20.5" cy="172.6" r="1.9" fill="#fff"/><circle cx="32.5" cy="173.3" r="1.9" fill="#fff"/><circle cx="24.5" cy="179.3" r="1.9" fill="#fff"/><circle cx="17.3" cy="189" r="1.9" fill="#fff"/><circle cx="35.5" cy="186.3" r="1.9" fill="#fff"/><path d="M18,211.4 H36 M18,221.7 H32.5 M18,227.4 H36"/><path d="M19.5,218.5 L35,212.5" stroke-dasharray="1.5,2"/><circle cx="16" cy="211.4" r="1.9"/><circle cx="16" cy="221.7" r="1.9"/><circle cx="16" cy="227.4" r="1.9"/><circle cx="34.5" cy="221.7" r="1.9"/><path d="M14.5,265.5 Q17,257 24.5,253 L29,257.5 Q25,264.5 14.5,265.5 Z"/><path d="M29.5,253 Q31,257 34.5,254 L39.5,249.5"/><path d="M19.5,288 V285.8 H33.8 V288 M26.6,285.8 V303.3 M23.8,303.3 H29.4"/><circle cx="25.8" cy="332.4" r="10.6"/><path d="M21.7,335 Q25.8,339 29.9,335"/></g>
<circle cx="22.6" cy="330" r="0.9" fill="#131722"/><circle cx="29" cy="330" r="0.9" fill="#131722"/>
<rect x="8" y="358" width="36" height="1" fill="#e0e3eb"/><rect x="8" y="447" width="36" height="1" fill="#e0e3eb"/><rect x="8" y="612" width="36" height="1" fill="#e0e3eb"/>
<g fill="none" stroke="#131722" stroke-width="1.3" stroke-linecap="round" stroke-linejoin="round" stroke-width="1.2"><path d="M14.5,390.5 L33.5,372.5 L37.5,376.5 L18.5,394.5 Z"/><path d="M19,386 L21,388 M22.5,382.7 L25,385.2 M26,379.4 L28,381.4 M29.5,376.1 L32,378.6"/><circle cx="24.5" cy="420.2" r="8.3"/><path d="M30.5,426.2 L34.6,430.3 M20.5,420.2 H28.5 M24.5,416.2 V424.2"/><path d="M18.5,481.5 V471 A7.7,7.7 0 0 1 34,471 V481.5 H29.5 V471 A3.2,3.2 0 0 0 23,471 V481.5 Z M18.5,477 H23 M29.5,477 H34"/><path d="M16.5,511.8 L26.3,502 A2.6,2.6 0 0 1 30,505.7 L20.2,515.5 H16.5 Z M16.5,511.8 L20.2,515.5 M24.5,503.8 L28.2,507.5"/><rect x="27.3" y="515.2" width="8.4" height="6.3" rx="1.4"/><path d="M29.5,515.2 V513 A2.1,2.1 0 0 1 33.7,513 V513.5"/><rect x="18" y="548" width="16.5" height="10.5" rx="1.5"/><path d="M21.5,548 V544 A4.3,4.3 0 0 1 30,543"/><path d="M16,583 Q25,569.4 34,583 Q25,596.6 16,583 Z"/><circle cx="24.9" cy="583" r="3.4"/><path d="M26.5,597.6 Q28,593 31.3,592.8 L32.6,594.2 Q31,598 26.5,597.6 Z M33,593.3 Q34.2,594.6 36.6,592"/><path d="M17,632.5 H35.5 M19.5,632.5 L21,647.5 H31.5 L33,632.5 M22.5,632.5 V629.5 Q22.5,628 24,628 H28.5 Q30,628 30,629.5 V632.5"/></g>
<rect x="25.4" y="551.4" width="1.4" height="3.1" fill="#131722"/><rect x="30.8" y="517.5" width="1" height="2.2" fill="#131722"/>
<g fill="none" stroke="#131722" stroke-width="1.3" stroke-linecap="round" stroke-linejoin="round" stroke-width="1.2"><path d="M1253,55.5 H1271.5 V76.5 L1262.2,72 L1253,76.5 Z M1256.5,60.5 H1268 M1256.5,64.5 H1268 M1256.5,68.5 H1268"/><circle cx="1262" cy="111.5" r="10.5"/><path d="M1262,105.5 V112.5 H1257.5 M1250,102 L1254,98.5 M1274,102 L1270,98.5"/><path d="M1249.5,155.5 L1261.5,148.5 L1273.5,155.5 L1261.5,162.5 Z M1249.5,161 L1261.5,168 L1273.5,161"/><path d="M1250,208.5 V196 Q1250,193.5 1252.5,193.5 H1265 Q1267.5,193.5 1267.5,196 V203.5 Q1267.5,206 1265,206 H1254 Z"/><path d="M1270,199.5 H1273 Q1275,199.5 1275,201.5 V216 L1271.5,212.5 H1260.5 Q1258.5,212.5 1258.5,210.5 V207"/><g stroke-width="1.0"><circle cx="1261.9" cy="465.9" r="13.2"/><circle cx="1261.9" cy="465.9" r="7"/><path d="M1261.9,465.9 L1271.3,456.5"/><path d="M1253,503 H1271 Q1273.5,503 1273.5,505.5 V521.3 Q1273.5,523.6 1271,523.6 H1253 Q1250.4,523.6 1250.4,521.3 V505.5 Q1250.4,503 1253,503 Z M1250.4,509.1 H1273.5"/><rect x="1254.8" y="500.3" width="2.6" height="5" rx="0.8" fill="#fff"/><rect x="1266.5" y="500.3" width="2.6" height="5" rx="0.8" fill="#fff"/></g><path d="M1251,546.4 A21.4,21.4 0 0 1 1272.4,567.8 M1251,552.6 A15.2,15.2 0 0 1 1266.2,567.8 M1251,558.4 A9.4,9.4 0 0 1 1260.4,567.8" stroke-width="1.0"/><circle cx="1252.8" cy="566" r="1.4" stroke-width="1.0"/><path d="M1252.3,609.5 V601 Q1252.3,594 1258.5,591.6 Q1260,589.6 1262.5,590.2 Q1264,590.5 1265,591.5 Q1272.2,594 1272.2,601 V609.5 M1251.5,609.5 H1273 Q1274.5,609.5 1274.5,611.5 Q1274.5,613.5 1273,613.5 H1251.5 Q1250,613.5 1250,611.5 Q1250,609.5 1251.5,609.5 Z M1259,613.5 Q1259.5,616.6 1262,616.6 Q1264.5,616.6 1265,613.5" stroke-width="1.0"/><circle cx="1262" cy="706.5" r="13.4"/><path d="M1257.5,701.5 Q1257.5,696.5 1262,696.5 Q1266.5,696.5 1266.5,701 Q1266.5,704 1262,706 V709.5"/><circle cx="1262" cy="713.5" r="1.3"/></g>
<circle cx="1261.9" cy="465.9" r="2.1" fill="#131722"/>
<circle cx="1271.6" cy="546.6" r="7.9" fill="#f23645" stroke="#fff" stroke-width="0.8"/>
<text x="1271.6" y="550.6" font-size="11.5" fill="#fff" font-weight="bold" text-anchor="middle" >2</text>
<circle cx="1271.6" cy="592.5" r="7.9" fill="#f23645" stroke="#fff" stroke-width="0.8"/>
<text x="1271.6" y="596.5" font-size="11.5" fill="#fff" font-weight="bold" text-anchor="middle" >2</text>
<circle cx="1262" cy="649.5" r="16.5" fill="#262626"/>
<rect x="1253.2" y="641" width="4.2" height="4.2" rx="0.6" fill="#fff"/>
<rect x="1260.2" y="641" width="4.2" height="4.2" rx="0.6" fill="#fff"/>
<rect x="1267.2" y="641" width="4.2" height="4.2" rx="0.6" fill="#fff"/>
<rect x="1253.2" y="648" width="4.2" height="4.2" rx="0.6" fill="#fff"/>
<rect x="1260.2" y="648" width="4.2" height="4.2" rx="0.6" fill="#fff"/>
<rect x="1267.2" y="648" width="4.2" height="4.2" rx="0.6" fill="#fff"/>
<rect x="1253.2" y="655" width="4.2" height="4.2" rx="0.6" fill="#fff"/>
<rect x="1260.2" y="655" width="4.2" height="4.2" rx="0.6" fill="#fff"/>
<rect x="1267.2" y="655" width="4.2" height="4.2" rx="0.6" fill="#fff"/>
<rect x="1245" y="678" width="33" height="1" fill="#e0e3eb"/>
<path d="M72.7,49.5 H84 V66.5 H72.7 A8.5,8.5 0 0 1 72.7,49.5 Z" fill="#d6f1ec"/>
<path d="M84,49.5 H95.4 A8.5,8.5 0 0 1 95.4,66.5 H84 Z" fill="#fbdde4"/>
<circle cx="75.2" cy="58.2" r="4" fill="#089981"/>
<text x="93.6" y="62.8" font-size="15" fill="#a8245a" font-weight="bold" text-anchor="middle" >≈</text>
<text x="112" y="63" font-size="13" fill="#131722" font-weight="normal" text-anchor="start" textLength="62" lengthAdjust="spacingAndGlyphs" >O18.33750</text>
<text x="181" y="63" font-size="13" fill="#131722" font-weight="normal" text-anchor="start" textLength="60.7" lengthAdjust="spacingAndGlyphs" >H18.37809</text>
<text x="248.8" y="63" font-size="13" fill="#131722" font-weight="normal" text-anchor="start" textLength="59.1" lengthAdjust="spacingAndGlyphs" >L18.30149</text>
<text x="314.5" y="63" font-size="13" fill="#131722" font-weight="normal" text-anchor="start" textLength="60.5" lengthAdjust="spacingAndGlyphs" >C18.31932</text>
<text x="382.5" y="63" font-size="13" fill="#131722" font-weight="normal" text-anchor="start" textLength="51.5" lengthAdjust="spacingAndGlyphs" >−0.01818</text>
<text x="439" y="63" font-size="13" fill="#131722" font-weight="normal" text-anchor="start" textLength="48.5" lengthAdjust="spacingAndGlyphs" >(−0.10%)</text>
<text x="65.3" y="87.2" font-size="13" fill="#131722" font-weight="normal" text-anchor="start" textLength="17" lengthAdjust="spacingAndGlyphs" >Vol</text>
<text x="91" y="87.2" font-size="13" fill="#e96a72" font-weight="normal" text-anchor="start" textLength="41.2" lengthAdjust="spacingAndGlyphs" >47.97 K</text>
<text x="65.3" y="110.6" font-size="13" fill="#131722" font-weight="normal" text-anchor="start" textLength="23.4" lengthAdjust="spacingAndGlyphs" >EMA</text>
<text x="97.6" y="110.6" font-size="13" fill="#e0505a" font-weight="normal" text-anchor="start" textLength="50.7" lengthAdjust="spacingAndGlyphs" >18.45671</text>
<text x="65.3" y="134.6" font-size="13" fill="#131722" font-weight="normal" text-anchor="start" textLength="23.4" lengthAdjust="spacingAndGlyphs" >EMA</text>
<text x="97.6" y="134.6" font-size="13" fill="#3434d8" font-weight="normal" text-anchor="start" textLength="50.7" lengthAdjust="spacingAndGlyphs" >18.88653</text>
<rect x="64.5" y="145.5" width="28" height="20" rx="3" fill="#fff" stroke="#e0e3eb" stroke-width="1"/>
<path d="M74.8,157.2 L78.5,153.5 L82.2,157.2" fill="none" stroke="#131722" stroke-width="1.3" stroke-linecap="round" stroke-linejoin="round" stroke-width="1.6"/>
<path d="M0,725 Q1.5,729.5 5,731 H0 Z" fill="#6b0d1a"/>
<path d="M1284,721 Q1281,729 1276,731 H1284 Z" fill="#8a1a2a"/>
</svg>
</body></html>
